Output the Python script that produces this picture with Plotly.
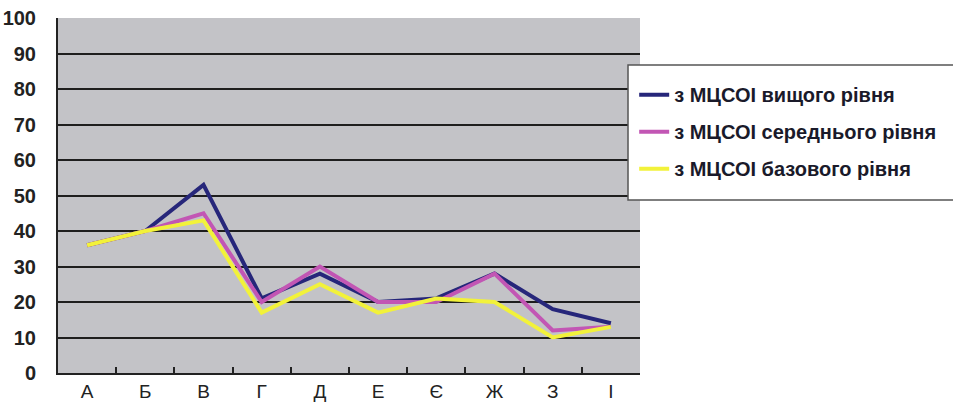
import plotly.graph_objects as go

categories = ["А", "Б", "В", "Г", "Д", "Е", "Є", "Ж", "З", "І"]
series_names = ["з МЦСОІ вищого рівня", "з МЦСОІ середнього рівня", "з МЦСОІ базового рівня"]
vyshchyi = [36, 40, 53, 21, 28, 20, 21, 28, 18, 14]
serednii = [36, 40, 45, 20, 30, 20, 20, 28, 12, 13]
bazovyi = [36, 40, 43, 17, 25, 17, 21, 20, 10, 13]
y_ticks = list(range(0, 101, 10))

colors = ["#26267a", "#c256b4", "#f2f23a"]
FONT = "Liberation Sans, Arial, sans-serif"

fig = go.Figure()
for name, vals, col in zip(series_names, [vyshchyi, serednii, bazovyi], colors):
    fig.add_trace(go.Scatter(
        x=categories, y=vals, mode="lines", name=name, legendgroup=name,
        line=dict(color=col, width=4),
    ))

fig.update_layout(
    width=953, height=404,
    margin=dict(l=58, r=313, t=18, b=31, autoexpand=False),
    paper_bgcolor="white",
    plot_bgcolor="#c3c3c7",
    font=dict(family=FONT, color="#222222"),
    showlegend=True,
    legend=dict(
        x=0.99, y=0.839, xanchor="left", yanchor="top",
        bgcolor="rgba(0,0,0,0)", borderwidth=0,
        font=dict(size=20, family=FONT, color="#1a1a2a", weight="bold"),
        tracegroupgap=8,
    ),
    shapes=[dict(
        type="rect", xref="paper", yref="paper",
        x0=0.9794, x1=1.56, y0=0.487, y1=0.8676,
        fillcolor="white", line=dict(color="#555555", width=1.5), layer="above",
    )],
)
fig.update_xaxes(
    type="category", tickson="boundaries", ticks="inside", ticklen=6, tickwidth=2,
    tickcolor="#222222", showgrid=False, showline=True, linecolor="#222222", linewidth=2,
    tickfont=dict(size=19, family=FONT, color="#222222"),
    range=[-0.5, 9.5], automargin=False,
)
fig.update_yaxes(
    range=[0, 100], tickvals=y_ticks, showgrid=True, gridcolor="#1e1e1e", gridwidth=2,
    showline=True, linecolor="#222222", linewidth=2, zeroline=False,
    ticks="", ticklabelstandoff=16, automargin=False,
    tickfont=dict(size=20, family=FONT, color="#222222", weight="bold"),
)

fig.write_html(
    "out.html",
    config={"displayModeBar": False},
    post_script="document.body.style.margin='0';document.body.style.overflow='hidden';",
)
